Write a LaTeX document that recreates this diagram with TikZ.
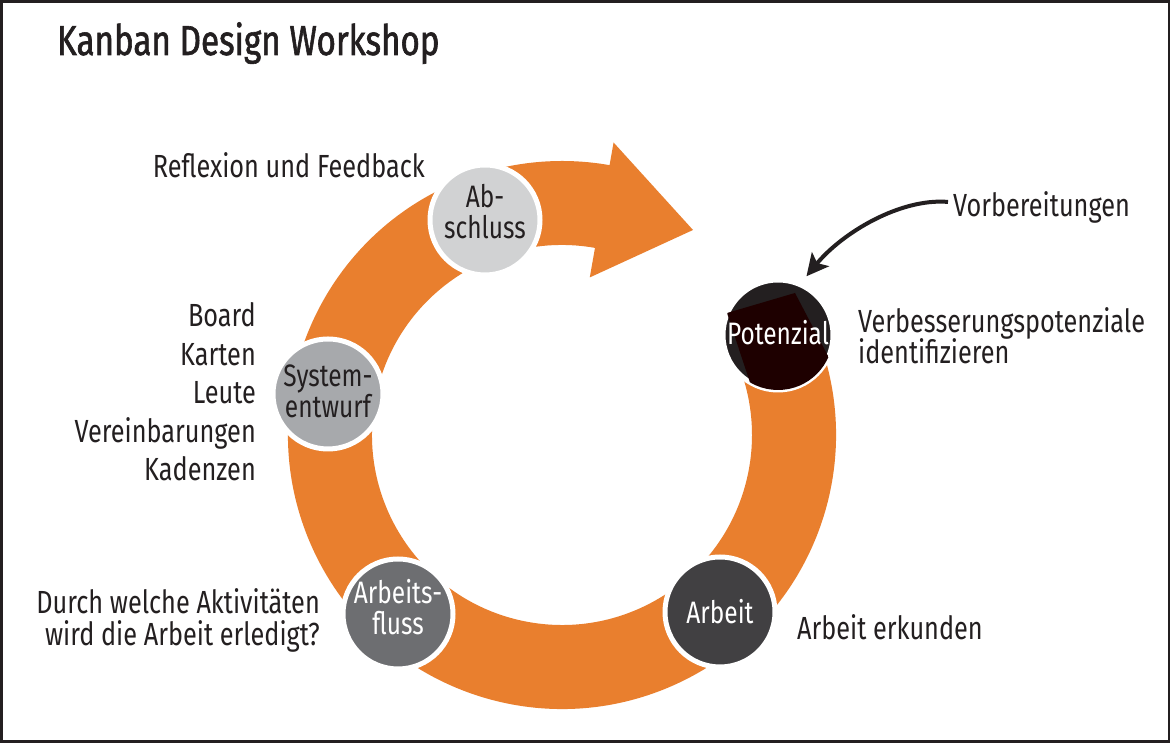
\documentclass[tikz,border=0pt]{standalone}
\usepackage{fontspec}
\setmainfont{Fira Sans}[FakeStretch=0.79]
\newfontfamily\titlefont{Fira Sans}[FakeStretch=0.79,FakeBold=1.4]
\usetikzlibrary{calc,arrows.meta}
\definecolor{ink}{HTML}{231F20}
\definecolor{ringorange}{HTML}{E97F2E}
\definecolor{gA}{HTML}{D1D2D3}
\definecolor{gS}{HTML}{A7A9AC}
\definecolor{gF}{HTML}{6D6E71}
\definecolor{gW}{HTML}{414042}
\definecolor{gP}{HTML}{231F20}
\definecolor{gPin}{HTML}{1E0000}
\begin{document}
\begin{tikzpicture}[x=1pt,y=1pt,
  lbl/.style={text=ink, inner sep=0pt, font=\fontsize{32}{33}\selectfont},
  stage/.style={circle, draw=white, line width=5pt, minimum size=110pt, inner sep=0pt},
  stagetext/.style={inner sep=0pt, align=center, font=\fontsize{31}{31}\selectfont}]
\useasboundingbox (0,0) rectangle (1171,743);
\fill[white] (0,0) rectangle (1171,743);
\draw[ink, line width=2.5pt] (1.5,1.5) rectangle (1169,741.5);

% title
\node[anchor=base west, text=ink, inner sep=0pt, font=\titlefont\fontsize{42}{44}\selectfont] (title) at (57,688) {Kanban Design Workshop};

% ring arrow
\coordinate (C) at (562,308);
\coordinate (tip) at (693,513);
\fill[ringorange] ($(C)+(25:274)$) arc[start angle=25, end angle=-280, radius=274]
  -- ($(C)+(80:297)$) -- (tip) -- ($(C)+(80:160)$) -- ($(C)+(80:190)$)
  arc[start angle=-280, end angle=25, radius=190] -- cycle;

% stages
\node[stage, fill=gA] (abs) at (485,523) {};
\node[stage, fill=gS] (sys) at (328,349) {};
\node[stage, fill=gF] (flu) at (398,129) {};
\node[stage, fill=gW] (arb) at (720,131) {};
\node[stage, fill=gP] (pot) at (778,408) {};
\begin{scope}
  \clip (778,408) circle[radius=55];
  \fill[gPin] (795,450) -- (727,430) -- (769,303) -- (872,303) -- cycle;
\end{scope}
\node[stagetext, text=ink] (absT) at ([yshift=8]abs.center) {Ab-\\schluss};
\node[stagetext, text=ink] (sysT) at ([yshift=3]sys.center) {System-\\entwurf};
\node[stagetext, text=white] (fluT) at ([yshift=7]flu.center) {Arbeits-\\fluss};
\node[stagetext, text=white] (arbT) at (arb.center) {Arbeit};
\node[stagetext, text=white] (potT) at ([yshift=2]pot.center) {Potenzial};

% labels
\node[lbl, anchor=base east] (refl) at (425,565) {Reflexion und Feedback};
\node[lbl, anchor=base east] (l1) at (256,416) {Board};
\node[lbl, anchor=base east] (l2) at (256,377) {Karten};
\node[lbl, anchor=base east] (l3) at (256,339) {Leute};
\node[lbl, anchor=base east] (l4) at (256,300) {Vereinbarungen};
\node[lbl, anchor=base east] (l5) at (256,262) {Kadenzen};
\node[lbl, anchor=base east] (durch) at (320,129) {Durch welche Aktivitäten};
\node[lbl, anchor=base east] (wird) at (320,97) {wird die Arbeit erledigt?};
\node[lbl, anchor=base west] (vorb) at (953,526) {Vorbereitungen};
\node[lbl, anchor=base west] (verb) at (858,410) {Verbesserungspotenziale};
\node[lbl, anchor=base west] (iden) at (858,379) {identifizieren};
\node[lbl, anchor=base west] (erk) at (797,103) {Arbeit erkunden};

% Vorbereitungen arrow
\coordinate (vs) at ([shift={(-5,6)}]vorb.west);
\draw[ink, line width=4pt, -{Stealth[length=22pt,width=22pt,inset=5pt]}, shorten >=8pt]
  (vs) .. controls (900,545) and (842,510) .. (pot.66);
\end{tikzpicture}
\end{document}
